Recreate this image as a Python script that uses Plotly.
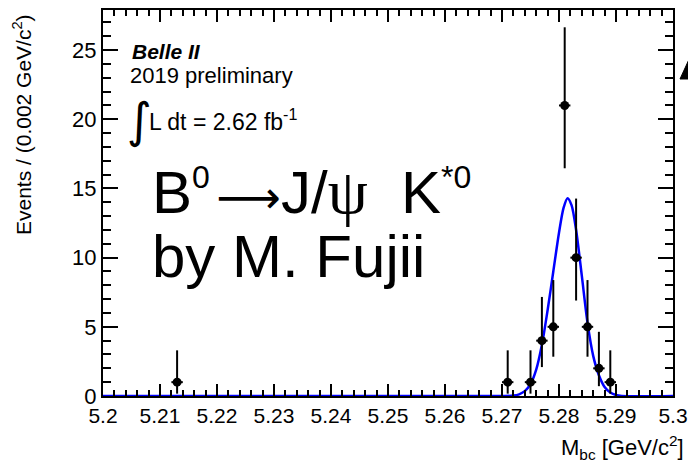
import plotly.graph_objects as go

# ---- data ----
bin_centers = [5.213, 5.271, 5.275, 5.277, 5.279, 5.281, 5.283, 5.285, 5.287, 5.289]
counts = [1, 1, 1, 4, 5, 21, 10, 5, 2, 1]
err_low = [0.83, 0.83, 0.83, 1.91, 2.16, 4.54, 3.10, 2.16, 1.29, 0.83]
err_high = [2.30, 2.30, 2.30, 3.16, 3.38, 5.65, 4.27, 3.38, 2.64, 2.30]

fit_x = [5.200, 5.270, 5.272, 5.273, 5.274, 5.275, 5.276, 5.277, 5.278, 5.279,
         5.280, 5.2808, 5.2815, 5.2822, 5.283, 5.284, 5.285, 5.286, 5.287,
         5.288, 5.289, 5.290, 5.291, 5.300]
fit_y = [0, 0, 0.03, 0.12, 0.35, 0.85, 1.9, 3.7, 6.2, 9.0,
         11.8, 13.6, 14.3, 13.8, 12.0, 8.7, 5.3, 2.9, 1.5,
         0.65, 0.25, 0.07, 0, 0]

x_ticks = [5.2, 5.21, 5.22, 5.23, 5.24, 5.25, 5.26, 5.27, 5.28, 5.29, 5.3]
y_ticks = [0, 5, 10, 15, 20, 25]

FONT = "Liberation Sans, Arial, Helvetica, sans-serif"

# plot area in pixels (for placing decorations)
W, H = 688, 466
L, R, T, B = 103, 15, 10, 70
PW, PH = W - L - R, H - T - B


def px(X):
    return (X - L) / PW


def py(Y):
    return (H - B - Y) / PH


fig = go.Figure()

fig.add_trace(go.Scatter(
    x=fit_x, y=fit_y, mode="lines",
    line=dict(color="#0000ff", width=2.5, shape="spline", smoothing=0.8),
    hoverinfo="skip", showlegend=False,
))

fig.add_trace(go.Scatter(
    x=bin_centers, y=counts, mode="markers",
    marker=dict(color="black", size=9, symbol="circle"),
    error_y=dict(type="data", symmetric=False, array=err_high, arrayminus=err_low,
                 color="black", thickness=2, width=0),
    error_x=dict(type="constant", value=0.001, color="black", thickness=2, width=0),
    showlegend=False,
))

axis_common = dict(
    showline=True, linecolor="black", linewidth=2, mirror="allticks",
    ticks="inside", tickcolor="black", tickwidth=2,
    showgrid=False, zeroline=False, automargin=False,
)

fig.update_xaxes(
    range=[5.2, 5.3], tickvals=x_ticks, ticktext=[f"{v:g}" for v in x_ticks],
    ticklen=12, tickfont=dict(family=FONT, size=21, color="black"),
    minor=dict(dtick=0.002, tick0=5.2, ticks="inside", ticklen=6, tickwidth=2, tickcolor="black"),
    **axis_common,
)
fig.update_yaxes(
    range=[0, 27.9], tickvals=y_ticks, ticklen=15,
    tickfont=dict(family=FONT, size=22, color="black"),
    minor=dict(dtick=1, tick0=0, ticks="inside", ticklen=8, tickwidth=2, tickcolor="black"),
    **axis_common,
)

SUP = "<sup><span style='font-size:32px'>{}</span></sup>"
GAP = "<span style='font-size:24px'> </span>"
line1 = ("B" + SUP.format("0") + GAP
         + "<span style='font-family:DejaVu Sans;font-size:45px'>⟶</span>"
         + "J/<span style='font-family:Liberation Serif;font-size:64px'>ψ</span>  K"
         + SUP.format("*0"))

ann = []
ann.append(dict(text="<b><i>Belle II</i></b>", x=px(130), y=py(51.5), xanchor="left", yanchor="middle",
                font=dict(family=FONT, size=21, color="black")))
ann.append(dict(text="2019 preliminary", x=px(128), y=py(75.5), xanchor="left", yanchor="middle",
                font=dict(family=FONT, size=22, color="black")))
ann.append(dict(text="∫", x=px(125), y=py(120), xanchor="left", yanchor="middle",
                font=dict(family="DejaVu Sans", size=48, color="black")))
ann.append(dict(text="L dt = 2.62 fb<sup>-1</sup>", x=px(147), y=py(120), xanchor="left", yanchor="middle",
                font=dict(family=FONT, size=23, color="black")))
ann.append(dict(text=line1, x=px(150), y=py(191), xanchor="left", yanchor="middle",
                font=dict(family=FONT, size=60, color="black")))
ann.append(dict(text="by M. Fujii", x=px(150), y=py(256), xanchor="left", yanchor="middle",
                font=dict(family=FONT, size=60, color="black")))
ann.append(dict(text="Events / (0.002 GeV/c<sup>2</sup>)", x=px(22), y=py(125), xanchor="center",
                yanchor="middle", textangle=-90,
                font=dict(family=FONT, size=21, color="black")))
ann.append(dict(text="M<sub>bc</sub> [GeV/c<sup>2</sup>]", x=px(686), y=py(447), xanchor="right",
                yanchor="middle", font=dict(family=FONT, size=22, color="black")))
for a in ann:
    a.update(xref="paper", yref="paper", showarrow=False)

arrow_path = "M {} {} L {} {} L {} {} Z".format(px(680), py(79), px(691), py(55), px(691), py(79))

fig.update_layout(
    width=W, height=H,
    margin=dict(l=L, r=R, t=T, b=B),
    paper_bgcolor="white", plot_bgcolor="white",
    annotations=ann,
    shapes=[dict(type="path", path=arrow_path, xref="paper", yref="paper",
                 fillcolor="black", line=dict(color="black", width=1))],
    showlegend=False,
)

fig.write_html("out.html")
